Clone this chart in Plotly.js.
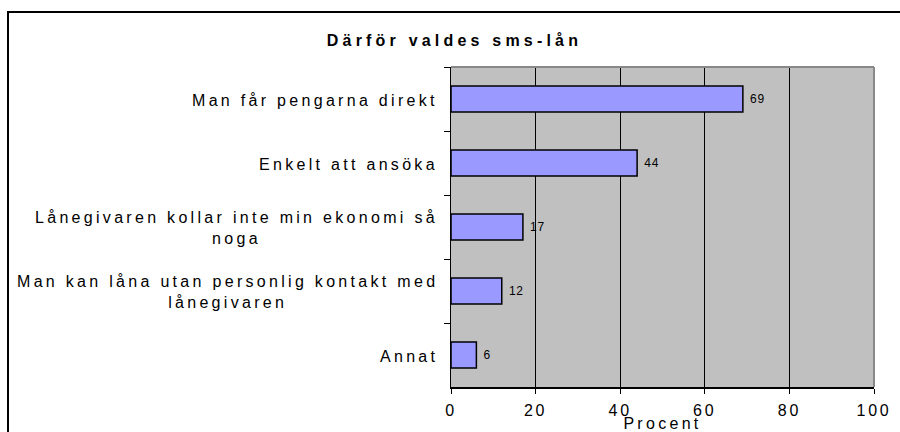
<!DOCTYPE html>
<html>
<head>
<meta charset="utf-8">
<script src="https://cdn.plot.ly/plotly-3.0.1.min.js"></script>
<style>
  html, body { margin: 0; padding: 0; background: #fff; }
  #wrap { position: relative; width: 900px; height: 432px; overflow: hidden; }
  #chart { width: 900px; height: 432px; }
  #frame { position: absolute; left: 7px; top: 11px; width: 1000px; height: 1000px;
           border: 2px solid #000; pointer-events: none; box-sizing: border-box; }
  .annotation-text { letter-spacing: 3.3px; }
  .gtitle { letter-spacing: 4.2px; }
  .xtitle { letter-spacing: 3.3px; }
  .xtick text { letter-spacing: 2.8px; }
  .bartext { letter-spacing: 0.8px; }
</style>
</head>
<body>
<div id="wrap">
  <div id="chart"></div>
  <div id="frame"></div>
</div>
<script>
const chartTitle = "Därför valdes sms-lån";
const xAxisTitle = "Procent";
const categories = [
  "Man får pengarna direkt",
  "Enkelt att ansöka",
  "Lånegivaren kollar inte min ekonomi så<br>noga",
  "Man kan låna utan personlig kontakt med<br>lånegivaren",
  "Annat"
];
const values = [69, 44, 17, 12, 6];
const xTickValues = [0, 20, 40, 60, 80, 100];

const font = "Liberation Sans, Arial, sans-serif";
const catIds = categories.map((c, i) => "c" + i);

const trace = {
  type: "bar",
  orientation: "h",
  y: catIds,
  x: values,
  width: 0.41,
  marker: { color: "#9999ff", line: { color: "#000", width: 1.5 } },
  text: values.map(v => String(v)),
  texttemplate: " %{text}",
  textposition: "outside",
  cliponaxis: false,
  textfont: { family: font, size: 12, color: "#000" },
  hoverinfo: "skip"
};

const annotations = categories.map((c, i) => ({
  xref: "paper", yref: "y",
  x: 0, y: catIds[i],
  xanchor: "right", yanchor: "middle",
  xshift: -11,
  yshift: -1,
  align: "center",
  showarrow: false,
  text: c,
  font: { family: font, size: 16, color: "#000" }
}));

const layout = {
  width: 900, height: 432,
  margin: { l: 451, r: 26, t: 67, b: 45 },
  paper_bgcolor: "rgba(0,0,0,0)",
  plot_bgcolor: "#c0c0c0",
  showlegend: false,
  title: {
    text: "<b>" + chartTitle + "</b>",
    font: { family: font, size: 16, color: "#000" },
    x: 0.505, xanchor: "center", xref: "container",
    y: 1 - 40 / 432, yanchor: "middle", yref: "container"
  },
  xaxis: {
    range: [0, 100],
    tickvals: xTickValues,
    ticktext: xTickValues.map(String),
    showgrid: true, gridcolor: "#000", gridwidth: 1,
    zeroline: false,
    showline: true, linecolor: "#000", linewidth: 1.5,
    ticks: "outside", ticklen: 5, tickcolor: "#000", tickwidth: 1,
    ticklabelstandoff: 3,
    tickfont: { family: font, size: 16, color: "#000" },
    title: { text: xAxisTitle, standoff: 0, font: { family: font, size: 16, color: "#000" } },
    fixedrange: true
  },
  yaxis: {
    type: "category",
    categoryorder: "array", categoryarray: catIds,
    autorange: "reversed",
    showticklabels: false,
    showgrid: false,
    zeroline: false,
    showline: true, linecolor: "#000", linewidth: 1.5,
    ticks: "outside", tickson: "boundaries", ticklen: 6, tickcolor: "#000", tickwidth: 1,
    fixedrange: true
  },
  bargap: 0.59,
  annotations: annotations,
  shapes: [
    { type: "line", xref: "paper", yref: "paper", x0: 0, x1: 1, y0: 1, y1: 1,
      line: { color: "#888", width: 2 }, layer: "above" },
    { type: "line", xref: "paper", yref: "paper", x0: 1, x1: 1, y0: 0, y1: 1,
      line: { color: "#888", width: 2 }, layer: "above" }
  ]
};

Plotly.newPlot("chart", [trace], layout, { displayModeBar: false, staticPlot: true });
</script>
</body>
</html>
